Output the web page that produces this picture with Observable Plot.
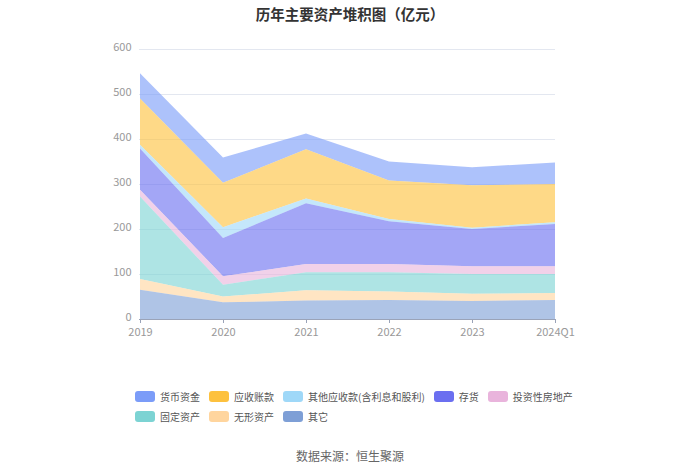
<!DOCTYPE html>
<html>
<head>
<meta charset="utf-8">
<script src="https://cdn.jsdelivr.net/npm/d3@7"></script>
<script src="https://cdn.jsdelivr.net/npm/@observablehq/plot@0.6"></script>
<style>
  html, body { margin: 0; padding: 0; background: #fff; }
  body { width: 700px; height: 473px; position: relative; overflow: hidden;
         font-family: "Noto Sans CJK SC", "Noto Sans", sans-serif; }
  #title { position: absolute; top: 3px; left: 0; width: 700px; text-align: center;
           font-size: 14.5px; font-weight: bold; color: #333; }
  #chart { position: absolute; top: 0; left: 0; }
  #legend { position: absolute; top: 389px; left: 135px; width: 450px;
            display: flex; flex-wrap: wrap; row-gap: 5px; font-size: 10px; color: #555; }
  .item { display: flex; align-items: center; margin-right: 9px; height: 15px; }
  .sw { width: 20px; height: 11px; border-radius: 3px; margin-right: 5px; }
  #caption { position: absolute; top: 447px; left: 0; width: 700px; text-align: center;
             font-size: 12px; color: #666; }
</style>
</head>
<body>
<div id="title">历年主要资产堆积图（亿元）</div>
<div id="chart"></div>
<div id="legend"></div>
<div id="caption">数据来源：恒生聚源</div>
<script>
const years = ["2019", "2020", "2021", "2022", "2023", "2024Q1"];
const seriesNames = ["货币资金", "应收账款", "其他应收款(含利息和股利)", "存货", "投资性房地产", "固定资产", "无形资产", "其它"];
const cash        = [56, 56, 35, 42, 40, 48];
const receivables = [103, 99, 109, 86, 94, 85];
const otherRecv   = [8, 24, 11, 5, 3, 4];
const inventory   = [92, 85, 135, 95, 83, 94];
const investProp  = [15, 19, 18, 18, 17, 17];
const fixedAssets = [183, 26, 40, 43, 44, 42];
const intangibles = [24, 13, 23, 19, 16, 16];
const others      = [65, 37, 41, 42, 40, 42];
const yTicks = [0, 100, 200, 300, 400, 500, 600];

const seriesValues = [cash, receivables, otherRecv, inventory, investProp, fixedAssets, intangibles, others];
const colors = ["#7b9cf8", "#fdc13e", "#9fd8f8", "#6b6ff0", "#e9b4dc", "#7cd3d3", "#ffd59e", "#7e9fd6"];

const rows = [];
seriesNames.forEach((name, i) => {
  years.forEach((yr, j) => rows.push({year: yr, series: name, value: seriesValues[i][j]}));
});
const stackOrder = seriesNames.slice().reverse();

const chart = Plot.plot({
  width: 700,
  height: 340,
  marginTop: 49,
  marginBottom: 21,
  marginLeft: 139,
  marginRight: 145,
  style: {fontFamily: "'Noto Sans CJK SC', 'Noto Sans', sans-serif", fontSize: "11px", background: "transparent"},
  x: {type: "point", domain: years, padding: 0},
  y: {domain: [0, 600]},
  color: {domain: seriesNames, range: colors},
  marks: [
    Plot.gridY(yTicks, {stroke: "#e3e7f0", strokeOpacity: 1}),
    Plot.areaY(rows, {x: "year", y: "value", z: "series", fill: "series", fillOpacity: 0.62, order: stackOrder}),
    Plot.ruleY([0], {stroke: "#9aa3b8", strokeWidth: 1}),
    Plot.axisY(yTicks, {tickSize: 0, tickPadding: 8, dy: -2, fill: "#999", label: null}),
    Plot.axisX({tickSize: 4, tickPadding: 5, stroke: "#9aa3b8", fill: "#999", label: null})
  ]
});
document.getElementById("chart").appendChild(chart);

const legend = document.getElementById("legend");
seriesNames.forEach((name, i) => {
  const item = document.createElement("div");
  item.className = "item";
  const sw = document.createElement("div");
  sw.className = "sw";
  sw.style.background = colors[i];
  const t = document.createElement("span");
  t.textContent = name;
  item.appendChild(sw);
  item.appendChild(t);
  legend.appendChild(item);
});
</script>
</body>
</html>
